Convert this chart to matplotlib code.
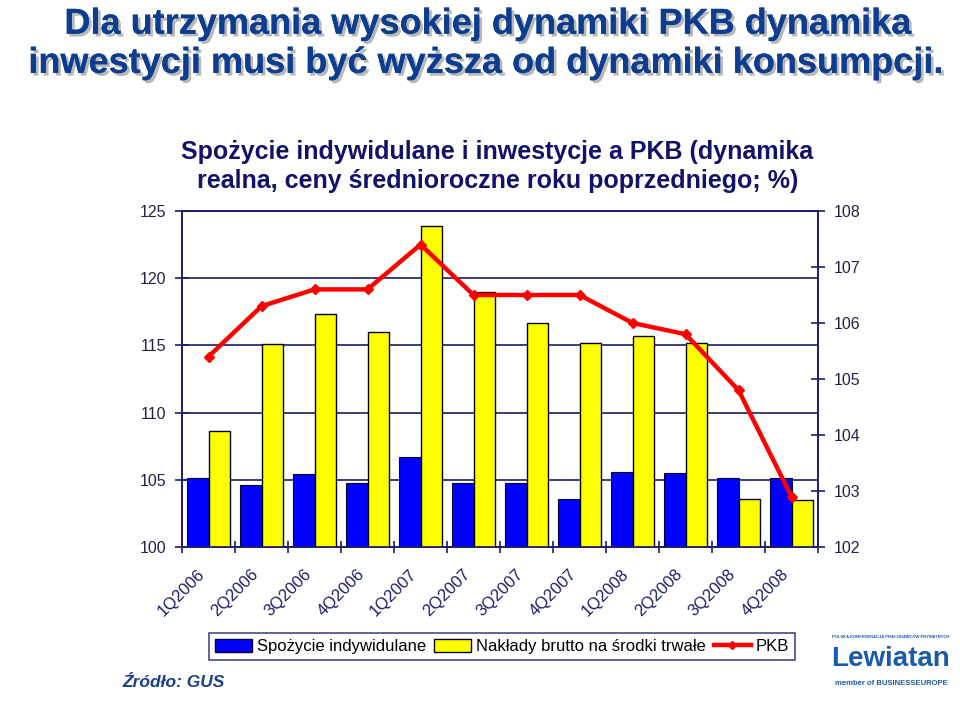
import matplotlib
matplotlib.use("Agg")
import matplotlib.pyplot as plt
import matplotlib.patheffects as pe
from matplotlib.patches import Patch
from matplotlib.lines import Line2D
from matplotlib.transforms import ScaledTranslation
import numpy as np

plt.rcParams['font.family'] = ['Liberation Sans', 'DejaVu Sans']

quarters = ["1Q2006", "2Q2006", "3Q2006", "4Q2006", "1Q2007", "2Q2007",
            "3Q2007", "4Q2007", "1Q2008", "2Q2008", "3Q2008", "4Q2008"]
spozycie = [105.1, 104.6, 105.4, 104.8, 106.7, 104.8, 104.8, 103.6, 105.6, 105.5, 105.1, 105.1]
naklady = [108.6, 115.1, 117.3, 116.0, 123.9, 119.0, 116.7, 115.2, 115.7, 115.2, 103.6, 103.5]
pkb = [105.4, 106.3, 106.6, 106.6, 107.4, 106.5, 106.5, 106.5, 106.0, 105.8, 104.8, 102.9]

navy = '#1c1c6b'
x = np.arange(len(quarters))

fig = plt.figure(figsize=(9.6, 7.12), dpi=100)
ax = fig.add_axes([0.1896, 0.2317, 0.6625, 0.472])

ax.bar(x - 0.2, [v - 100 for v in spozycie], 0.4, bottom=100, color='#0000ff',
       edgecolor='#000033', linewidth=0.8, zorder=3)
ax.bar(x + 0.2, [v - 100 for v in naklady], 0.4, bottom=100, color='#ffff00',
       edgecolor='black', linewidth=1.0, zorder=3)
ax.set_ylim(100, 125)
ax.set_yticks([100, 105, 110, 115, 120, 125])
ax.set_xlim(-0.5, 11.5)
ax.yaxis.grid(True, color=navy, linewidth=1.2, zorder=0)
ax.set_axisbelow(True)

ax.set_xticks(x)
ax.set_xticklabels(quarters, rotation=45, ha='right', rotation_mode='anchor',
                   fontsize=12, color=navy)
ax.set_xticks(np.arange(-0.5, 12, 1), minor=True)
ax.tick_params(axis='x', which='major', length=0, pad=8)
ax.tick_params(axis='x', which='minor', length=8, direction='inout', color=navy, width=1.2)
ax.tick_params(axis='y', length=10, direction='inout', color=navy, width=1.2,
               labelsize=11.5, labelcolor='#222244', pad=6)
# nudge the rotated labels down-left like the original
shift = ScaledTranslation(-0.11, -0.08, fig.dpi_scale_trans)
for lab in ax.get_xticklabels():
    lab.set_transform(lab.get_transform() + shift)
for s in ax.spines.values():
    s.set_color(navy)
    s.set_linewidth(1.2)

ax2 = ax.twinx()
ax2.plot(x, pkb, color='#ff0000', linewidth=3.2, marker='D', markersize=5, zorder=5)
ax2.set_ylim(102, 108)
ax2.set_yticks([102, 103, 104, 105, 106, 107, 108])
ax2.tick_params(axis='y', length=10, direction='inout', color=navy, width=1.2,
                labelsize=11.5, labelcolor='#222244', pad=6)
for s in ax2.spines.values():
    s.set_color(navy)
    s.set_linewidth(1.2)

handles = [Patch(facecolor='#0000ff', edgecolor='#000033'),
           Patch(facecolor='#ffff00', edgecolor='black'),
           Line2D([], [], color='#ff0000', linewidth=3.2, marker='D', markersize=4)]
labels = ["Spożycie indywidulane", "Nakłady brutto na środki trwałe", "PKB"]
leg = fig.legend(handles, labels, loc='center', bbox_to_anchor=(0.523, 0.092), ncol=3,
                 fontsize=12, frameon=True, fancybox=False, edgecolor=navy,
                 handlelength=2.2, handleheight=0.8, handletextpad=0.3, columnspacing=0.5,
                 borderpad=0.35)
leg.get_frame().set_linewidth(1.2)

shadow = [pe.withSimplePatchShadow(offset=(2, -2), shadow_rgbFace='#9a9a9a', alpha=0.7), pe.Normal()]
fig.text(0.508, 0.966, "Dla utrzymania wysokiej dynamiki PKB dynamika", ha='center', va='center',
         fontsize=26, fontweight='bold', color='#0d3d8f', path_effects=shadow)
fig.text(0.506, 0.911, "inwestycji musi być wyższa od dynamiki konsumpcji.", ha='center', va='center',
         fontsize=26, fontweight='bold', color='#0d3d8f', path_effects=shadow)

fig.text(0.518, 0.766, "Spożycie indywidulane i inwestycje a PKB (dynamika\nrealna, ceny średnioroczne roku poprzedniego; %)",
         ha='center', va='center', fontsize=18, fontweight='bold', color='#12126b', linespacing=1.3)

fig.text(0.128, 0.042, "Źródło: GUS", ha='left', va='center', fontsize=12.5,
         fontweight='bold', fontstyle='italic', color='#1a3f8a')

fig.text(0.928, 0.105, "POLSKA KONFEDERACJA PRACODAWCÓW PRYWATNYCH", ha='center', va='center',
         fontsize=3, fontweight='bold', color='#1a5aa8')
fig.text(0.928, 0.075, "Lewiatan", ha='center', va='center', fontsize=20,
         fontweight='bold', color='#1a5aa8')
fig.text(0.928, 0.04, "member of BUSINESSEUROPE", ha='center', va='center', fontsize=5.5,
         fontweight='bold', color='#1a5aa8')

fig.savefig("out.png", dpi=100)
